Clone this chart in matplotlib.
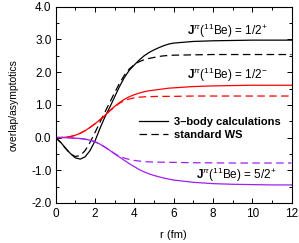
import matplotlib
matplotlib.use("Agg")
import matplotlib.pyplot as plt
from matplotlib.ticker import MultipleLocator, FormatStrFormatter

plt.rcParams['font.family'] = ['Liberation Sans', 'DejaVu Sans']
plt.rcParams['mathtext.fontset'] = 'custom'
plt.rcParams['mathtext.rm'] = 'Liberation Sans'
plt.rcParams['mathtext.bf'] = 'Liberation Sans:bold'
plt.rcParams['mathtext.it'] = 'Liberation Sans:italic'

# radial grid (fm)
r = [0, 0.25, 0.5, 0.75, 1.0, 1.25, 1.5, 1.75, 2.0, 2.25, 2.5, 2.75, 3.0,
     3.25, 3.5, 3.75, 4.0, 4.25, 4.5, 4.75, 5.0, 5.25, 5.5, 5.75, 6.0,
     7, 8, 9, 10, 11, 12]

# 1/2+ state
half_plus_3b = [0, -0.14, -0.32, -0.49, -0.62, -0.66, -0.59, -0.40, -0.11, 0.27,
                0.62, 0.92, 1.24, 1.56, 1.84, 2.06, 2.22, 2.37, 2.50, 2.60,
                2.68, 2.75, 2.81, 2.86, 2.89, 2.94, 2.96, 2.97, 2.98, 2.98, 2.98]
half_plus_ws = [0, -0.15, -0.33, -0.50, -0.58, -0.55, -0.40, -0.15, 0.15, 0.46,
                0.77, 1.07, 1.37, 1.66, 1.91, 2.10, 2.23, 2.32, 2.38, 2.42,
                2.45, 2.48, 2.50, 2.51, 2.52, 2.53, 2.54, 2.54, 2.54, 2.54, 2.54]

# 1/2- state
half_minus_3b = [0, 0, 0.01, 0.03, 0.07, 0.13, 0.21, 0.31, 0.42, 0.54,
                 0.67, 0.82, 0.95, 1.07, 1.17, 1.25, 1.31, 1.36, 1.40, 1.43,
                 1.45, 1.47, 1.49, 1.51, 1.52, 1.56, 1.58, 1.59, 1.60, 1.60, 1.60]
half_minus_ws = [0, 0, 0.01, 0.03, 0.07, 0.13, 0.21, 0.31, 0.42, 0.54,
                 0.67, 0.81, 0.94, 1.05, 1.13, 1.18, 1.215, 1.235, 1.245, 1.25,
                 1.255, 1.26, 1.26, 1.26, 1.26, 1.27, 1.27, 1.27, 1.27, 1.27, 1.27]

# 5/2+ state
five_plus_3b = [0, 0, -0.005, -0.01, -0.02, -0.03, -0.05, -0.08, -0.13, -0.20,
                -0.29, -0.39, -0.50, -0.60, -0.70, -0.80, -0.89, -0.98, -1.05, -1.11,
                -1.16, -1.20, -1.24, -1.27, -1.30, -1.37, -1.41, -1.43, -1.44, -1.45, -1.45]
five_plus_ws = [0, 0, -0.005, -0.01, -0.02, -0.03, -0.05, -0.08, -0.13, -0.20,
                -0.29, -0.39, -0.49, -0.57, -0.63, -0.67, -0.70, -0.72, -0.735, -0.745,
                -0.75, -0.752, -0.755, -0.757, -0.76, -0.77, -0.775, -0.78, -0.78, -0.78, -0.78]

labels = [r'$\mathbf{J}^{\pi}(^{11}$Be) = 1/2$^{+}$',
          r'$\mathbf{J}^{\pi}(^{11}$Be) = 1/2$^{-}$',
          r'$\mathbf{J}^{\pi}(^{11}$Be) = 5/2$^{+}$']

red = '#ff0000'
purple = '#a020f0'
dash = (0, (6, 3.5))
lw = 0.9

fig = plt.figure(figsize=(2.99, 2.43), dpi=100)
ax = fig.add_axes([0.186, 0.165, 0.789, 0.807])

ax.plot(r, half_plus_3b, color='black', lw=lw, label='3\u2013body calculations')
ax.plot(r, half_plus_ws, color='black', lw=lw, linestyle=dash, label='standard WS')
ax.plot(r, half_minus_3b, color=red, lw=lw)
ax.plot(r, half_minus_ws, color=red, lw=lw, linestyle=dash)
ax.plot(r, five_plus_3b, color=purple, lw=lw)
ax.plot(r, five_plus_ws, color=purple, lw=lw, linestyle=dash)

ax.text(6.7, 3.26, labels[0], fontsize=8.5, va='center', ha='left')
ax.text(6.7, 1.93, labels[1], fontsize=8.5, va='center', ha='left')
ax.text(7.15, -1.15, labels[2], fontsize=8.5, va='center', ha='left')

leg = ax.legend(loc='upper left', bbox_to_anchor=(0.355, 0.44), frameon=False,
                prop={'weight': 'bold', 'size': 8}, handlelength=2.6,
                handletextpad=0.5, labelspacing=0.3, borderpad=0,
                borderaxespad=0)

ax.set_xlim(0, 12)
ax.set_ylim(-2.0, 4.0)
ax.xaxis.set_major_locator(MultipleLocator(2))
ax.xaxis.set_minor_locator(MultipleLocator(1))
ax.yaxis.set_major_locator(MultipleLocator(1))
ax.yaxis.set_minor_locator(MultipleLocator(0.5))
ax.yaxis.set_major_formatter(FormatStrFormatter('%.1f'))
ax.tick_params(which='both', direction='in', top=True, right=True, labelsize=8.5)
ax.tick_params(axis='x', pad=4)
ax.tick_params(axis='y', pad=3)
ax.tick_params(which='major', length=3.5, width=0.7)
ax.tick_params(which='minor', length=2, width=0.7)
for s in ax.spines.values():
    s.set_linewidth(0.8)

ax.set_xlabel('r (fm)', fontsize=8, labelpad=7)
ax.set_ylabel('overlap/asymptotics', fontsize=7.5, labelpad=9)

fig.savefig('out.png', dpi=100)
